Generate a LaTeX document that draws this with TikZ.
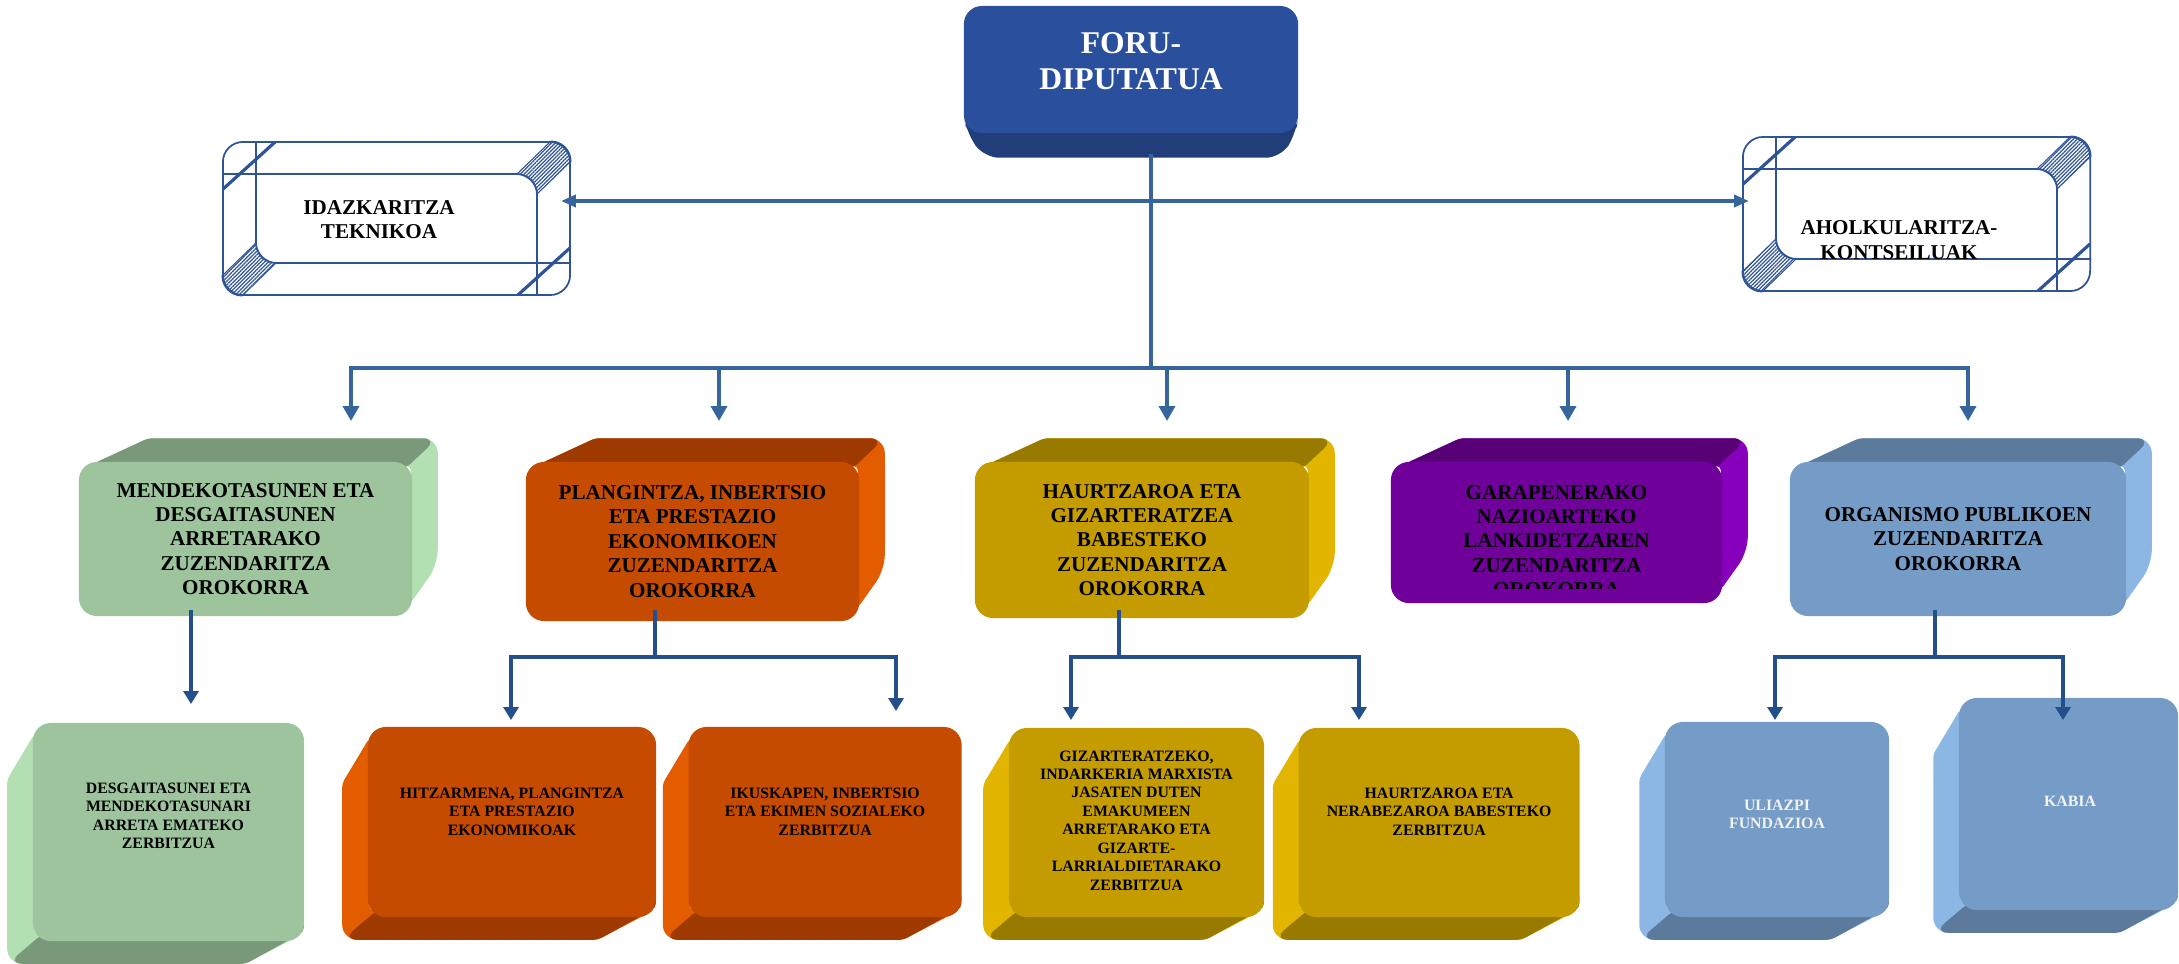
\documentclass[tikz,border=0pt]{standalone}
\usepackage{fontspec}
\setmainfont{Liberation Serif}
\usetikzlibrary{positioning, arrows.meta, calc, backgrounds, patterns.meta}

\definecolor{mainblue}{RGB}{54,101,155}
\definecolor{subblue}{RGB}{37,79,139}
\definecolor{bevline}{RGB}{47,84,150}
\definecolor{foruface}{RGB}{41,79,157}
\definecolor{forudark}{RGB}{33,62,122}
\definecolor{grnface}{RGB}{157,196,157}
\definecolor{grndark}{RGB}{122,152,122}
\definecolor{grnlight}{RGB}{178,224,178}
\definecolor{orgface}{RGB}{197,75,0}
\definecolor{orgdark}{RGB}{158,58,0}
\definecolor{orglight}{RGB}{228,92,0}
\definecolor{gldface}{RGB}{196,156,0}
\definecolor{glddark}{RGB}{153,122,0}
\definecolor{gldlight}{RGB}{225,181,0}
\definecolor{prpface}{RGB}{112,0,154}
\definecolor{prpdark}{RGB}{88,0,117}
\definecolor{prplight}{RGB}{135,0,188}
\definecolor{bluface}{RGB}{117,156,198}
\definecolor{bludark}{RGB}{92,122,155}
\definecolor{blulight}{RGB}{140,183,228}
\definecolor{blutext}{RGB}{242,242,242}

\newcommand{\slabup}[2]{%
  \begin{scope}[on background layer]
    \fill[#1light, rounded corners=0.04cm] ($(#2.north west)+(16,2)$) -- ($(#2.north west)+(70,-23)$) [rounded corners=0.15cm] -- ($(#2.north east)+(25,-23)$) -- ($(#2.south east)+(25,-52)$) [rounded corners=0.04cm] -- ($(#2.south east)+(-2,-14)$) -- ($(#2.north east)+(-2,5)$) -- cycle;
    \fill[#1dark, rounded corners=0.04cm] ($(#2.north west)+(16,2)$) -- ($(#2.north west)+(70,-23)$) [rounded corners=0.15cm] -- ($(#2.north east)+(25,-23)$) [rounded corners=0.04cm] -- ($(#2.north east)+(-6,6)$) -- cycle;
  \end{scope}}

\newcommand{\slabdown}[2]{%
  \begin{scope}[on background layer]
    \fill[#1light, rounded corners=0.04cm] ($(#2.north west)+(2,12)$) -- ($(#2.north west)+(-25,57)$) [rounded corners=0.15cm] -- ($(#2.south west)+(-25,22)$) [rounded corners=0.04cm] -- ($(#2.south east)+(-59,22)$) -- ($(#2.south east)+(-2,-8)$) -- ($(#2.south west)+(2,-8)$) -- cycle;
    \fill[#1dark, rounded corners=0.15cm] ($(#2.south west)+(8,-6)$) -- ($(#2.south west)+(-25,22)$) [rounded corners=0.04cm] -- ($(#2.south east)+(-59,22)$) -- ($(#2.south east)+(-1,-10)$) -- ($(#2.south east)+(-1,-25)$) -- cycle;
  \end{scope}}

\newcommand{\bevelframe}[1]{%
  \draw[bevline, line width=0.5pt, rounded corners=0.2cm] ($(#1.north west)+(0,33)$) -| ($(#1.south east)+(-34,0)$);
  \draw[bevline, line width=0.5pt, rounded corners=0.2cm] ($(#1.north west)+(34,0)$) |- ($(#1.south east)+(0,-33)$);
  \filldraw[bevhatch] ($(#1.north east)+(-20,0)$) .. controls ($(#1.north east)+(-9,0)$) and ($(#1.north east)+(0,9)$) .. ($(#1.north east)+(0,20)$) -- ($(#1.north east)+(-34,53)$) .. controls ($(#1.north east)+(-34,42)$) and ($(#1.north east)+(-45,33)$) .. ($(#1.north east)+(-54,33)$) -- cycle;
  \filldraw[bevhatch] ($(#1.south west)+(0,-20)$) .. controls ($(#1.south west)+(0,-9)$) and ($(#1.south west)+(9,0)$) .. ($(#1.south west)+(20,0)$) -- ($(#1.south west)+(54,-33)$) .. controls ($(#1.south west)+(45,-33)$) and ($(#1.south west)+(34,-42)$) .. ($(#1.south west)+(34,-53)$) -- cycle;
  \draw[bevline, line width=0.9pt] ($(#1.north west)+(1,48)$) -- ($(#1.north west)+(53,1)$);
  \draw[bevline, line width=0.9pt] ($(#1.south east)+(-1,-48)$) -- ($(#1.south east)+(-53,-1)$);}

\begin{document}
\begin{tikzpicture}[
  x=0.01cm, y=-0.01cm,
  >={Triangle[length=0.15cm,width=0.16cm]},
  mainedge/.style={draw=mainblue, line width=1.4pt},
  subedge/.style={draw=subblue, line width=1.1pt, >={Triangle[length=0.13cm,width=0.15cm]}},
  bevelnode/.style={draw=bevline, line width=0.5pt, rounded corners=0.2cm, minimum width=3.47cm, minimum height=1.53cm},
  beveltext/.style={align=center, inner sep=0pt, font=\fontsize{6}{7}\selectfont\bfseries},
  bevhatch/.style={draw=bevline, line width=0.3pt, pattern={Lines[angle=45,distance=0.75pt,line width=0.35pt]}, pattern color=bevline},
  facenode/.style={rounded corners=0.18cm, inner sep=0pt},
  deptnode/.style={facenode, align=center, font=\fontsize{6}{6.95}\selectfont\bfseries},
  servtext/.style={align=center, inner sep=0pt, font=\fontsize{4.5}{5.25}\selectfont\bfseries}
]
\useasboundingbox (0,0) rectangle (2179,963);

\node[bevelnode] (idaz) at (396.5,218.5) {};
\bevelframe{idaz}
\node[beveltext] (idazt) at ($(idaz)+(-17.5,1)$) {IDAZKARITZA\\TEKNIKOA};

\node[bevelnode, minimum height=1.54cm] (ahol) at (1916.5,214) {};
\bevelframe{ahol}
\node[beveltext] (aholt) at ($(ahol)+(-17.5,26)$) {AHOLKULARITZA-\\KONTSEILUAK};

\node[facenode, fill=foruface, minimum width=3.34cm, minimum height=1.27cm] (foru) at (1131,69.5) {};
\begin{scope}[on background layer]
  \fill[forudark, rounded corners=0.15cm] ($(foru.south west)+(0,-20)$) -- ($(foru.south west)+(4,0)$) -- ($(foru.south west)+(21,24)$) -- ($(foru.south east)+(-18,24)$) -- ($(foru.south east)+(-3,0)$) -- ($(foru.south east)+(0,-20)$) -- cycle;
\end{scope}
\node[text=white, align=center, inner sep=0pt, font=\fontsize{9}{10.25}\selectfont\bfseries] (forut) at ($(foru)+(0,-8.5)$) {FORU-\\DIPUTATUA};

\node[deptnode, fill=grnface, minimum width=3.33cm, minimum height=1.54cm] (mend) at (245.5,539) {MENDEKOTASUNEN ETA\\DESGAITASUNEN\\ARRETARAKO\\ZUZENDARITZA\\OROKORRA};
\slabup{grn}{mend}
\node[deptnode, fill=orgface, minimum width=3.33cm, minimum height=1.59cm] (plan) at (692.5,541.5) {PLANGINTZA, INBERTSIO\\ETA PRESTAZIO\\EKONOMIKOEN\\ZUZENDARITZA\\OROKORRA};
\slabup{org}{plan}
\node[deptnode, fill=gldface, minimum width=3.34cm, minimum height=1.56cm] (haur) at (1142,540) {HAURTZAROA ETA\\GIZARTERATZEA\\BABESTEKO\\ZUZENDARITZA\\OROKORRA};
\slabup{gld}{haur}
\node[facenode, fill=prpface, minimum width=3.31cm, minimum height=1.41cm] (gara) at (1556.5,532.5) {};
\slabup{prp}{gara}
\begin{scope}
  \clip (gara.north west) rectangle ($(gara.south east)+(0,-15)$);
  \node[deptnode] (garat) at ($(gara)+(0,8.5)$) {GARAPENERAKO\\NAZIOARTEKO\\LANKIDETZAREN\\ZUZENDARITZA\\OROKORRA};
\end{scope}
\node[deptnode, fill=bluface, minimum width=3.36cm, minimum height=1.54cm] (orga) at (1958,539) {ORGANISMO PUBLIKOEN\\ZUZENDARITZA\\OROKORRA};
\slabup{blu}{orga}

\node[facenode, fill=grnface, minimum width=2.71cm, minimum height=2.18cm] (desg) at (168.5,832) {};
\slabdown{grn}{desg}
\node[servtext] (desgt) at ($(desg)+(0,-16)$) {DESGAITASUNEI ETA\\MENDEKOTASUNARI\\ARRETA EMATEKO\\ZERBITZUA};

\node[facenode, fill=orgface, minimum width=2.88cm, minimum height=1.90cm] (hitz) at (512,822) {};
\slabdown{org}{hitz}
\node[servtext] (hitzt) at ($(hitz)+(0,-10.5)$) {HITZARMENA, PLANGINTZA\\ETA PRESTAZIO\\EKONOMIKOAK};
\node[facenode, fill=orgface, minimum width=2.73cm, minimum height=1.90cm, right=0.31cm of hitz] (ikus) {};
\slabdown{org}{ikus}
\node[servtext] (ikust) at ($(ikus)+(0,-10.5)$) {IKUSKAPEN, INBERTSIO\\ETA EKIMEN SOZIALEKO\\ZERBITZUA};

\node[facenode, fill=gldface, minimum width=2.55cm, minimum height=1.89cm] (giza) at (1136.5,822.5) {};
\slabdown{gld}{giza}
\node[servtext] (gizat) at ($(giza)+(0,-2)$) {GIZARTERATZEKO,\\INDARKERIA MARXISTA\\JASATEN DUTEN\\EMAKUMEEN\\ARRETARAKO ETA\\GIZARTE-\\LARRIALDIETARAKO\\ZERBITZUA};
\node[facenode, fill=gldface, minimum width=2.81cm, minimum height=1.89cm, right=0.33cm of giza] (nera) {};
\slabdown{gld}{nera}
\node[servtext] (nerat) at ($(nera)+(0,-11)$) {HAURTZAROA ETA\\NERABEZAROA BABESTEKO\\ZERBITZUA};

\node[facenode, fill=bluface, minimum width=2.24cm, minimum height=1.95cm] (ulia) at (1777,819.5) {};
\slabdown{blu}{ulia}
\node[servtext, text=blutext] (uliat) at ($(ulia)+(0,-5)$) {ULIAZPI\\FUNDAZIOA};
\node[facenode, fill=bluface, minimum width=2.19cm, minimum height=2.12cm] (kabi) at (2068.5,804) {};
\slabdown{blu}{kabi}
\node[servtext, text=blutext] (kabit) at ($(kabi)+(1.5,-3)$) {KABIA};

\coordinate (hub) at (1151,368);
\coordinate (a1) at (351,421);
\coordinate (a2) at (719,421);
\coordinate (a3) at (1167,421);
\coordinate (a4) at (1568,421);
\coordinate (a5) at (1968,421);

\draw[mainedge] ($(foru.south)+(20,20)$) -- (hub);
\draw[mainedge,->] (hub) -| (a1);
\draw[mainedge,->] (hub) -| (a2);
\draw[mainedge,->] (hub) -| (a3);
\draw[mainedge,->] (hub) -| (a4);
\draw[mainedge,->] (hub) -| (a5);
\draw[mainedge, line width=1.2pt, >={Triangle[length=0.15cm,width=0.12cm]}, <->] ($(idaz.east)+(-10,-17.5)$) -- ($(ahol.west)+(7,-13)$);

\coordinate (b1) at (191,704);
\coordinate (j2) at (655,657);
\coordinate (b2) at (511,720);
\coordinate (b3) at (896,711);
\coordinate (j3) at (1119,657);
\coordinate (b4) at (1071,720);
\coordinate (b5) at (1359,720);
\coordinate (j4) at (1935,657);
\coordinate (b6) at (1775,720);
\coordinate (b7) at (2063,720);

\draw[subedge,->] ($(mend.south)+(-54.5,-7)$) -- (b1);
\draw[subedge] ($(plan.south)+(-37.5,-12)$) -- (j2);
\draw[subedge,->] (j2) -| (b2);
\draw[subedge,->] (j2) -| (b3);
\draw[subedge] ($(haur.south)+(-23,-9)$) -- (j3);
\draw[subedge,->] (j3) -| (b4);
\draw[subedge,->] (j3) -| (b5);
\draw[subedge] ($(orga.south)+(-23,-7)$) -- (j4);
\draw[subedge,->] (j4) -| (b6);
\draw[subedge,->] (j4) -| (b7);

\end{tikzpicture}
\end{document}
